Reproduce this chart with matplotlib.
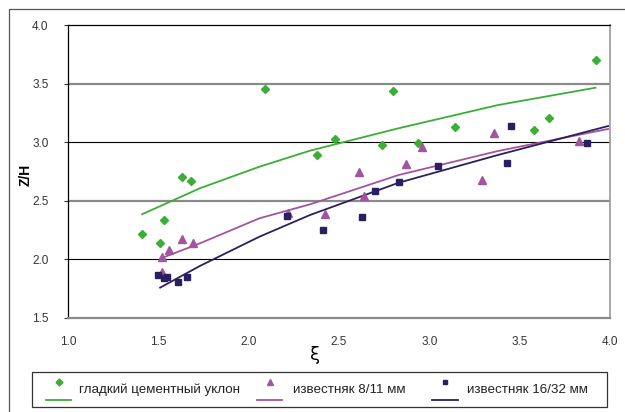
import matplotlib
matplotlib.use("Agg")
import matplotlib.pyplot as plt
from matplotlib.lines import Line2D
from matplotlib.patches import Rectangle

plt.rcParams['font.family'] = ['Liberation Sans', 'DejaVu Sans']

# data
smooth_x = [1.41, 1.51, 1.53, 1.63, 1.68, 2.09, 2.38, 2.48, 2.74, 2.80, 2.94, 3.14, 3.58, 3.66, 3.92]
smooth_y = [2.22, 2.14, 2.34, 2.70, 2.67, 3.45, 2.89, 3.03, 2.98, 3.44, 2.99, 3.13, 3.10, 3.21, 3.70]
lime8_x = [1.52, 1.52, 1.56, 1.63, 1.69, 2.22, 2.42, 2.61, 2.64, 2.87, 2.96, 3.29, 3.36, 3.83]
lime8_y = [2.02, 1.89, 2.08, 2.17, 2.14, 2.40, 2.39, 2.75, 2.54, 2.81, 2.96, 2.68, 3.08, 3.01]
lime16_x = [1.50, 1.53, 1.55, 1.61, 1.66, 2.21, 2.41, 2.63, 2.70, 2.83, 3.05, 3.43, 3.45, 3.87]
lime16_y = [1.87, 1.84, 1.85, 1.81, 1.85, 2.37, 2.25, 2.36, 2.58, 2.66, 2.80, 2.82, 3.14, 2.99]

# trend lines
trend_smooth_x = [1.41, 1.73, 2.06, 2.34, 2.83, 3.38, 3.92]
trend_smooth_y = [2.385, 2.607, 2.791, 2.928, 3.119, 3.317, 3.465]
trend_lime8_x = [1.51, 1.73, 2.06, 2.34, 2.83, 3.38, 3.99]
trend_lime8_y = [2.006, 2.137, 2.351, 2.470, 2.720, 2.925, 3.113]
trend_lime16_x = [1.51, 1.73, 2.06, 2.34, 2.83, 3.38, 3.99]
trend_lime16_y = [1.759, 1.944, 2.194, 2.379, 2.654, 2.891, 3.138]

labels = ['гладкий цементный уклон', 'известняк 8/11 мм', 'известняк 16/32 мм']
green = '#3aae35'
purple = '#a2559e'
navy = '#2b1f60'

fig = plt.figure(figsize=(6.25, 4.12), dpi=100)
W, H = 625, 412
ax = fig.add_axes([68 / W, 1 - 318 / H, (610 - 68) / W, (318 - 25) / H])

for yv, c, lw in [(3.5, '#8a8a8a', 1.6), (2.5, '#8a8a8a', 1.6), (3.0, 'black', 0.8), (2.0, 'black', 0.8)]:
    ax.axhline(yv, color=c, lw=lw, zorder=0)

ax.plot(trend_smooth_x, trend_smooth_y, color=green, lw=1.3)
ax.plot(trend_lime8_x, trend_lime8_y, color=purple, lw=1.3)
ax.plot(trend_lime16_x, trend_lime16_y, color=navy, lw=1.3)
ax.plot(smooth_x, smooth_y, 'D', color=green, ms=4.3, ls='none')
ax.plot(lime8_x, lime8_y, '^', color=purple, ms=6, ls='none')
ax.plot(lime16_x, lime16_y, 's', color=navy, ms=4.3, ls='none')

ax.set_xlim(1.0, 4.0)
ax.set_ylim(1.5, 4.0)
ax.set_xticks([1.0, 1.5, 2.0, 2.5, 3.0, 3.5, 4.0])
ax.set_yticks([1.5, 2.0, 2.5, 3.0, 3.5, 4.0])
ax.xaxis.set_major_formatter(matplotlib.ticker.FormatStrFormatter('%.1f'))
ax.yaxis.set_major_formatter(matplotlib.ticker.FormatStrFormatter('%.1f'))
ax.tick_params(axis='y', direction='out', length=3, width=0.8, labelsize=8.5, colors='#333333', pad=11)
ax.tick_params(axis='x', length=0, labelsize=8.5, colors='#333333', pad=13)
ax.spines['left'].set_color('black')
ax.spines['top'].set_color('black')
ax.spines['right'].set_color('#999999')
ax.spines['bottom'].set_color('#8a8a8a')
ax.spines['right'].set_linewidth(1.2)
ax.spines['bottom'].set_linewidth(1.6)
ax.spines['left'].set_linewidth(0.9)
ax.spines['top'].set_linewidth(0.9)

fig.text(315 / W, 1 - 355 / H, 'ξ', fontsize=13, ha='center', va='center', family='DejaVu Sans')
fig.text(26 / W, 1 - 175 / H, 'Z/H', fontsize=10, fontweight='bold', rotation=90, ha='center', va='center')

# outer chart frame
fig.add_artist(Rectangle((9 / W, -0.05), 1.0, 1 - 9 / H + 0.05, transform=fig.transFigure,
                         fill=False, ec='#555555', lw=0.9))
# legend box, Excel style: marker above the line
fig.add_artist(Rectangle((32 / W, 1 - 407 / H), (607 - 32) / W, (407 - 372) / H,
                         transform=fig.transFigure, fill=False, ec='#333333', lw=0.9))
entries = [(46, 71, 79, labels[0], green, 'D', 3.5),
           (257, 282, 293, labels[1], purple, '^', 4.5),
           (432, 458, 467, labels[2], navy, 's', 3.5)]
for x0, x1, xt, lab, c, m, ms in entries:
    fig.add_artist(Line2D([x0 / W, x1 / W], [1 - 400 / H] * 2, color=c, lw=1.3, transform=fig.transFigure))
    fig.add_artist(Line2D([(x0 + x1) / 2 / W], [1 - 382 / H], marker=m, color=c, ms=ms, ls='none',
                          transform=fig.transFigure))
    fig.text(xt / W, 1 - 390 / H, lab, fontsize=9.6, ha='left', va='center', color='#222222')

fig.savefig('out.png', dpi=100)
